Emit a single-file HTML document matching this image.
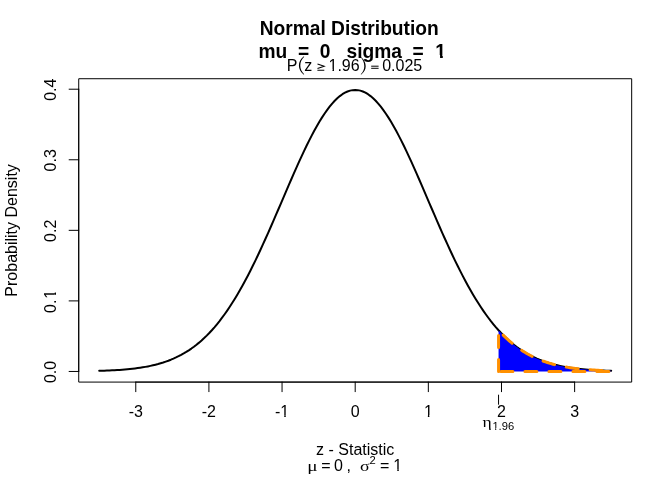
<!DOCTYPE html>
<html><head><meta charset="utf-8"><style>
html,body{margin:0;padding:0;background:#fff;width:672px;height:480px;overflow:hidden}
svg{display:block;will-change:transform}
text{font-family:"Liberation Sans",sans-serif;font-size:16px;fill:#000}
.b{font-weight:bold;font-size:19.2px}
.sym{font-family:"Liberation Serif",serif}
</style></head><body>
<svg width="672" height="480" viewBox="0 0 672 480">
<rect x="0" y="0" width="672" height="480" fill="#fff"/>
<polyline points="99.20,370.84 101.76,370.76 104.32,370.68 106.88,370.58 109.44,370.46 112.00,370.34 114.56,370.20 117.12,370.05 119.68,369.88 122.24,369.70 124.80,369.49 127.36,369.26 129.92,369.01 132.48,368.73 135.04,368.43 137.60,368.09 140.16,367.72 142.72,367.32 145.28,366.88 147.84,366.40 150.40,365.87 152.96,365.30 155.52,364.68 158.08,364.01 160.64,363.27 163.20,362.48 165.76,361.62 168.32,360.70 170.88,359.70 173.44,358.62 176.00,357.46 178.56,356.22 181.12,354.88 183.68,353.46 186.24,351.93 188.80,350.30 191.36,348.56 193.92,346.70 196.48,344.73 199.04,342.64 201.60,340.42 204.16,338.08 206.72,335.60 209.28,332.98 211.84,330.22 214.40,327.32 216.96,324.27 219.52,321.08 222.08,317.73 224.64,314.23 227.20,310.58 229.76,306.77 232.32,302.82 234.88,298.70 237.44,294.44 240.00,290.02 242.56,285.46 245.12,280.75 247.68,275.91 250.24,270.92 252.80,265.81 255.36,260.57 257.92,255.22 260.48,249.75 263.04,244.19 265.60,238.53 268.16,232.79 270.72,226.98 273.28,221.11 275.84,215.20 278.40,209.25 280.96,203.28 283.52,197.30 286.08,191.34 288.64,185.39 291.20,179.49 293.76,173.64 296.32,167.86 298.88,162.17 301.44,156.59 304.00,151.13 306.56,145.80 309.12,140.63 311.68,135.62 314.24,130.81 316.80,126.20 319.36,121.80 321.92,117.64 324.48,113.72 327.04,110.06 329.60,106.68 332.16,103.58 334.72,100.78 337.28,98.28 339.84,96.09 342.40,94.23 344.96,92.70 347.52,91.50 350.08,90.64 352.64,90.13 355.20,89.96 357.76,90.13 360.32,90.64 362.88,91.50 365.44,92.70 368.00,94.23 370.56,96.09 373.12,98.28 375.68,100.78 378.24,103.58 380.80,106.68 383.36,110.06 385.92,113.72 388.48,117.64 391.04,121.80 393.60,126.20 396.16,130.81 398.72,135.62 401.28,140.63 403.84,145.80 406.40,151.13 408.96,156.59 411.52,162.17 414.08,167.86 416.64,173.64 419.20,179.49 421.76,185.39 424.32,191.34 426.88,197.30 429.44,203.28 432.00,209.25 434.56,215.20 437.12,221.11 439.68,226.98 442.24,232.79 444.80,238.53 447.36,244.19 449.92,249.75 452.48,255.22 455.04,260.57 457.60,265.81 460.16,270.92 462.72,275.91 465.28,280.75 467.84,285.46 470.40,290.02 472.96,294.44 475.52,298.70 478.08,302.82 480.64,306.77 483.20,310.58 485.76,314.23 488.32,317.73 490.88,321.08 493.44,324.27 496.00,327.32 498.56,330.22 501.12,332.98 503.68,335.60 506.24,338.08 508.80,340.42 511.36,342.64 513.92,344.73 516.48,346.70 519.04,348.56 521.60,350.30 524.16,351.93 526.72,353.46 529.28,354.88 531.84,356.22 534.40,357.46 536.96,358.62 539.52,359.70 542.08,360.70 544.64,361.62 547.20,362.48 549.76,363.27 552.32,364.01 554.88,364.68 557.44,365.30 560.00,365.87 562.56,366.40 565.12,366.88 567.68,367.32 570.24,367.72 572.80,368.09 575.36,368.43 577.92,368.73 580.48,369.01 583.04,369.26 585.60,369.49 588.16,369.70 590.72,369.88 593.28,370.05 595.84,370.20 598.40,370.34 600.96,370.46 603.52,370.58 606.08,370.68 608.64,370.76 611.20,370.84" fill="none" stroke="#000" stroke-width="2" stroke-linejoin="round" stroke-linecap="round"/>
<polygon points="498.56,371.46 498.56,330.22 500.44,332.26 502.31,334.22 504.19,336.10 506.07,337.92 507.95,339.66 509.82,341.33 511.70,342.93 513.58,344.46 515.46,345.93 517.33,347.33 519.21,348.67 521.09,349.96 522.97,351.18 524.84,352.34 526.72,353.46 528.60,354.51 530.47,355.52 532.35,356.47 534.23,357.38 536.11,358.24 537.98,359.06 539.86,359.83 541.74,360.57 543.62,361.26 545.49,361.92 547.37,362.54 549.25,363.12 551.13,363.67 553.00,364.19 554.88,364.68 556.76,365.14 558.63,365.58 560.51,365.98 562.39,366.37 564.27,366.72 566.14,367.06 568.02,367.38 569.90,367.67 571.78,367.95 573.65,368.21 575.53,368.45 577.41,368.67 579.29,368.88 581.16,369.08 583.04,369.26 584.92,369.43 586.79,369.59 588.67,369.73 590.55,369.87 592.43,370.00 594.30,370.11 596.18,370.22 598.06,370.32 599.94,370.42 601.81,370.50 603.69,370.58 605.57,370.66 607.45,370.72 609.32,370.79 611.20,370.84 611.20,371.46" fill="#0000ff" stroke="none"/>
<polygon points="498.56,371.46 498.56,330.22 500.44,332.26 502.31,334.22 504.19,336.10 506.07,337.92 507.95,339.66 509.82,341.33 511.70,342.93 513.58,344.46 515.46,345.93 517.33,347.33 519.21,348.67 521.09,349.96 522.97,351.18 524.84,352.34 526.72,353.46 528.60,354.51 530.47,355.52 532.35,356.47 534.23,357.38 536.11,358.24 537.98,359.06 539.86,359.83 541.74,360.57 543.62,361.26 545.49,361.92 547.37,362.54 549.25,363.12 551.13,363.67 553.00,364.19 554.88,364.68 556.76,365.14 558.63,365.58 560.51,365.98 562.39,366.37 564.27,366.72 566.14,367.06 568.02,367.38 569.90,367.67 571.78,367.95 573.65,368.21 575.53,368.45 577.41,368.67 579.29,368.88 581.16,369.08 583.04,369.26 584.92,369.43 586.79,369.59 588.67,369.73 590.55,369.87 592.43,370.00 594.30,370.11 596.18,370.22 598.06,370.32 599.94,370.42 601.81,370.50 603.69,370.58 605.57,370.66 607.45,370.72 609.32,370.79 611.20,370.84 611.20,371.46" fill="none" stroke="#ff9000" stroke-width="3" stroke-dasharray="12 12" stroke-linecap="round" stroke-linejoin="round"/>
<rect x="78.72" y="78.72" width="552.96" height="303.36" fill="none" stroke="#000" stroke-width="1.0" stroke-linejoin="round"/>
<g stroke="#000" stroke-width="1.0" stroke-linecap="round"><line x1="135.77" y1="382.08" x2="135.77" y2="391.68"/><line x1="208.91" y1="382.08" x2="208.91" y2="391.68"/><line x1="282.06" y1="382.08" x2="282.06" y2="391.68"/><line x1="355.20" y1="382.08" x2="355.20" y2="391.68"/><line x1="428.34" y1="382.08" x2="428.34" y2="391.68"/><line x1="501.49" y1="382.08" x2="501.49" y2="391.68"/><line x1="574.63" y1="382.08" x2="574.63" y2="391.68"/><line x1="78.72" y1="371.46" x2="69.12" y2="371.46"/><line x1="78.72" y1="300.90" x2="69.12" y2="300.90"/><line x1="78.72" y1="230.33" x2="69.12" y2="230.33"/><line x1="78.72" y1="159.77" x2="69.12" y2="159.77"/><line x1="78.72" y1="89.21" x2="69.12" y2="89.21"/>
<line x1="135.77" y1="382.08" x2="574.63" y2="382.08"/>
<line x1="78.72" y1="371.46" x2="78.72" y2="89.21"/>
<line x1="498.56" y1="395.1" x2="498.56" y2="404.3"/>
</g>
<g text-anchor="middle"><text x="135.77" y="416.64">-3</text><text x="208.91" y="416.64">-2</text><text x="282.06" y="416.64">-1</text><text x="355.20" y="416.64">0</text><text x="428.34" y="416.64">1</text><text x="501.49" y="416.64">2</text><text x="574.63" y="416.64">3</text><text transform="translate(55.68,371.96) rotate(-90)" x="0" y="0">0.0</text><g transform="translate(55.68,301.40) rotate(-90)"><text x="0" y="0">0.<tspan dx="0.8">1</tspan></text><rect fill="#fff" x="3.24" y="-1.68" width="3.40" height="2.28"/><rect fill="#fff" x="8.86" y="-1.68" width="3.33" height="2.28"/></g><text transform="translate(55.68,230.83) rotate(-90)" x="0" y="0">0.2</text><text transform="translate(55.68,160.27) rotate(-90)" x="0" y="0">0.3</text><text transform="translate(55.68,89.71) rotate(-90)" x="0" y="0">0.4</text>
<text class="b" transform="translate(349.20,34.6) scale(1,1.06)" x="0" y="0">Normal Distribution</text>
<text class="b" transform="translate(352.20,57.6) scale(1,1.06)" x="0" y="0" xml:space="preserve">mu  =  0   sigma  =  <tspan dx="0.8">1</tspan></text>
<text x="355.20" y="455.04">z - Statistic</text>
<text transform="translate(17.28,230.40) rotate(-90)">Probability Density</text>
</g>
<g>
<text x="286.8" y="70.6">P</text>
<path d="M303.9,56.3 C300.6,59 298.9,62 298.9,65.5 C298.9,69 300.6,72 303.9,74.75 L304.2,74.35 C301.7,71.7 300.3,68.9 300.3,65.5 C300.3,62.1 301.7,59.3 304.2,56.7 Z"/>
<text x="304.14" y="70.6">z</text>
<path d="M317.5,64 L324.2,66.3 L317.5,68.6 M317.4,70.15 L324.3,70.15" fill="none" stroke="#000" stroke-width="1.05"/>
<text x="328.5" y="70.6">1.96</text>
<path d="M361.4,57.2 C364.1,59.8 365.7,62.8 365.7,66.3 C365.7,69.7 364.1,72.4 361.0,74.65 L360.8,74.25 C363.1,72 364.3,69.4 364.3,66.3 C364.3,63 363.0,60.1 361.0,57.6 Z"/>
<path d="M371.2,66.2 L378.6,66.2 M371.2,68.3 L378.6,68.3" fill="none" stroke="#000" stroke-width="1"/>
<text x="382.18" y="70.6">0.025</text>
</g>
<g>
<text class="sym" transform="translate(307.3,470.9) scale(1.2,0.97)" x="0" y="0">μ</text>
<text x="321.2" y="470.9">=</text>
<text x="333.98" y="470.9">0</text>
<text x="346.56" y="470.9">,</text>
<text class="sym" transform="translate(359.9,470.9) scale(1.12,0.9)" x="0" y="0">σ</text>
<text x="369.44" y="463.75" style="font-size:11.2px">2</text>
<text x="380.0" y="470.9">=</text>
<text x="393.3" y="470.9">1</text>
</g>
<g>
<text class="sym" transform="translate(482.5,426.6) scale(1.1,0.96)" x="0" y="0">η</text>
<text x="492.4" y="429.9" style="font-size:11.2px">1.96</text>
</g>
<g fill="#fff"><rect x="424.11" y="415" width="3.75" height="2.24"/><rect x="429.38" y="415" width="3.68" height="2.24"/><rect x="280.49" y="415" width="3.75" height="2.24"/><rect x="285.76" y="415" width="3.68" height="2.24"/><rect x="328.72" y="69" width="3.75" height="2.20"/><rect x="333.99" y="69" width="3.68" height="2.20"/><rect x="393.52" y="469" width="3.75" height="2.50"/><rect x="398.79" y="469" width="3.68" height="2.50"/><rect x="435.84" y="55" width="4.22" height="3.30"/><rect x="442.80" y="55" width="4.03" height="3.30"/><rect x="492.25" y="428" width="2.91" height="2.50"/><rect x="496.26" y="428" width="2.88" height="2.50"/></g>
</svg>
</body></html>
